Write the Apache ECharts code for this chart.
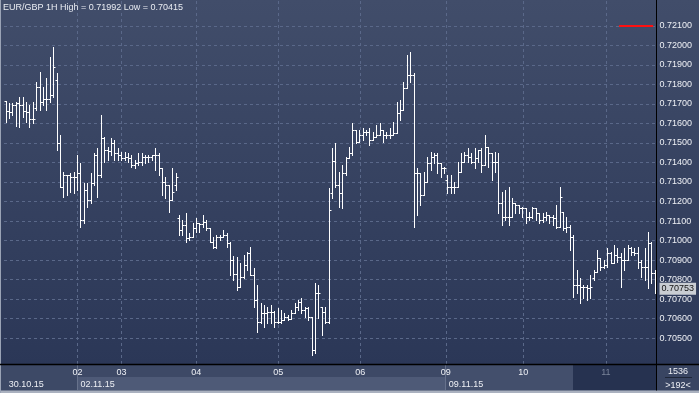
<!DOCTYPE html>
<html><head><meta charset="utf-8">
<script src="https://cdn.jsdelivr.net/npm/echarts@6/dist/echarts.min.js"></script>
<style>html,body{margin:0;padding:0;background:#2b3757;}#c{width:699px;height:393px;}</style>
</head><body><div id="c"></div>
<script>
// ---- data (EUR/GBP 1H, 192 bars) ----
const opens = [
0.71715,0.71664,0.71658,0.71694,0.71705,0.71694,0.71664,0.71658,0.71623,0.71679,
0.71787,0.71710,0.71725,0.71725,0.71746,0.71823,0.71499,0.71274,0.71335,0.71335,
0.71325,0.71325,0.71346,0.71104,0.71258,0.71207,0.71294,0.71438,0.71335,0.71525,
0.71464,0.71458,0.71499,0.71448,0.71438,0.71422,0.71428,0.71422,0.71387,0.71397,
0.71402,0.71428,0.71428,0.71428,0.71438,0.71438,0.71371,0.71299,0.71284,0.71207,
0.71284,0.71115,0.71053,0.71079,0.71012,0.71017,0.71063,0.71089,0.71084,0.71094,
0.71063,0.70992,0.70966,0.71017,0.71017,0.71028,0.70987,0.70899,0.70827,0.70761,
0.70812,0.70874,0.70935,0.70822,0.70694,0.70581,0.70627,0.70627,0.70632,0.70632,
0.70581,0.70581,0.70592,0.70607,0.70597,0.70627,0.70658,0.70684,0.70643,0.70653,
0.70607,0.70438,0.70730,0.70658,0.70632,0.70581,0.71243,0.71407,0.71284,0.71243,
0.71346,0.71422,0.71448,0.71566,0.71505,0.71540,0.71556,0.71556,0.71515,0.71530,
0.71540,0.71566,0.71540,0.71540,0.71540,0.71551,0.71653,0.71669,0.71782,0.71848,
0.71848,0.71346,0.71346,0.71233,0.71299,0.71397,0.71428,0.71438,0.71397,0.71371,
0.71310,0.71274,0.71274,0.71274,0.71351,0.71402,0.71438,0.71428,0.71402,0.71422,
0.71464,0.71387,0.71479,0.71448,0.71402,0.71402,0.71192,0.71120,0.71120,0.71120,
0.71192,0.71181,0.71166,0.71166,0.71120,0.71120,0.71166,0.71140,0.71104,0.71120,
0.71130,0.71120,0.71115,0.71069,0.71146,0.71063,0.71069,0.71017,0.70771,0.70771,
0.70761,0.70761,0.70756,0.70807,0.70838,0.70910,0.70863,0.70874,0.70935,0.70884,
0.70925,0.70915,0.70899,0.70899,0.70961,0.70940,0.70935,0.70889,0.70863,0.70863,
0.70987,0.70833];
const highs = [
0.71715,0.71705,0.71705,0.71710,0.71735,0.71735,0.71710,0.71694,0.71710,0.71812,
0.71864,0.71787,0.71833,0.71941,0.71992,0.71859,0.71540,0.71351,0.71335,0.71346,
0.71351,0.71438,0.71397,0.71294,0.71294,0.71346,0.71448,0.71474,0.71643,0.71530,
0.71479,0.71525,0.71515,0.71474,0.71453,0.71453,0.71448,0.71438,0.71412,0.71448,
0.71448,0.71438,0.71438,0.71438,0.71474,0.71448,0.71371,0.71325,0.71284,0.71371,
0.71346,0.71130,0.71104,0.71140,0.71038,0.71089,0.71115,0.71089,0.71130,0.71104,
0.71063,0.71017,0.71028,0.71028,0.71053,0.71038,0.70992,0.70920,0.70915,0.70884,
0.70925,0.70940,0.70966,0.70858,0.70771,0.70679,0.70668,0.70658,0.70668,0.70637,
0.70653,0.70643,0.70627,0.70617,0.70643,0.70679,0.70694,0.70704,0.70658,0.70658,
0.70607,0.70781,0.70771,0.70658,0.70658,0.71269,0.71474,0.71499,0.71351,0.71387,
0.71428,0.71479,0.71602,0.71566,0.71566,0.71576,0.71566,0.71576,0.71556,0.71592,
0.71602,0.71566,0.71556,0.71576,0.71607,0.71710,0.71720,0.71812,0.71951,0.71966,
0.71859,0.71371,0.71346,0.71351,0.71428,0.71453,0.71448,0.71448,0.71397,0.71376,
0.71335,0.71335,0.71299,0.71402,0.71448,0.71453,0.71474,0.71448,0.71474,0.71464,
0.71474,0.71540,0.71479,0.71448,0.71453,0.71448,0.71248,0.71258,0.71274,0.71217,
0.71192,0.71181,0.71171,0.71166,0.71146,0.71171,0.71166,0.71140,0.71140,0.71146,
0.71130,0.71130,0.71181,0.71274,0.71146,0.71120,0.71079,0.71028,0.70848,0.70807,
0.70771,0.70771,0.70822,0.70848,0.70951,0.70910,0.70899,0.70961,0.70940,0.70976,
0.70961,0.70935,0.70961,0.70976,0.70966,0.70961,0.70966,0.70899,0.70961,0.71043,
0.70992,0.70848];
const lows = [
0.71607,0.71628,0.71643,0.71587,0.71581,0.71633,0.71607,0.71581,0.71602,0.71669,
0.71669,0.71694,0.71669,0.71710,0.71735,0.71464,0.71274,0.71222,0.71233,0.71248,
0.71243,0.71258,0.71069,0.71089,0.71171,0.71192,0.71284,0.71222,0.71325,0.71402,
0.71412,0.71438,0.71412,0.71412,0.71412,0.71412,0.71402,0.71376,0.71371,0.71387,
0.71387,0.71397,0.71402,0.71412,0.71361,0.71335,0.71233,0.71217,0.71146,0.71207,
0.71258,0.71028,0.71028,0.70992,0.71002,0.71017,0.71043,0.71043,0.71069,0.71053,
0.70992,0.70961,0.70961,0.71002,0.71017,0.70966,0.70822,0.70797,0.70745,0.70761,
0.70807,0.70848,0.70822,0.70658,0.70530,0.70576,0.70555,0.70576,0.70576,0.70555,
0.70576,0.70576,0.70592,0.70592,0.70597,0.70627,0.70643,0.70627,0.70607,0.70592,
0.70415,0.70422,0.70602,0.70515,0.70576,0.70576,0.71217,0.71274,0.71171,0.71166,
0.71335,0.71422,0.71438,0.71499,0.71505,0.71515,0.71540,0.71489,0.71515,0.71530,
0.71540,0.71505,0.71525,0.71525,0.71540,0.71551,0.71617,0.71669,0.71782,0.71812,
0.71069,0.71130,0.71181,0.71233,0.71299,0.71361,0.71397,0.71346,0.71325,0.71346,
0.71243,0.71243,0.71243,0.71274,0.71351,0.71402,0.71402,0.71397,0.71371,0.71402,
0.71351,0.71387,0.71376,0.71310,0.71351,0.71140,0.71079,0.71104,0.71079,0.71120,
0.71140,0.71140,0.71120,0.71089,0.71104,0.71115,0.71104,0.71089,0.71094,0.71104,
0.71089,0.71079,0.71063,0.71069,0.71053,0.71043,0.70951,0.70710,0.70730,0.70679,
0.70704,0.70694,0.70704,0.70797,0.70838,0.70848,0.70858,0.70863,0.70884,0.70884,
0.70889,0.70761,0.70848,0.70899,0.70925,0.70925,0.70858,0.70812,0.70797,0.70756,
0.70781,0.70730];
const closes = [
0.71664,0.71658,0.71694,0.71705,0.71694,0.71664,0.71658,0.71623,0.71623,0.71787,
0.71710,0.71725,0.71725,0.71746,0.71889,0.71499,0.71274,0.71335,0.71335,0.71325,
0.71325,0.71346,0.71104,0.71258,0.71207,0.71294,0.71438,0.71335,0.71525,0.71464,
0.71458,0.71499,0.71448,0.71438,0.71422,0.71428,0.71422,0.71387,0.71397,0.71402,
0.71428,0.71428,0.71428,0.71438,0.71438,0.71371,0.71299,0.71284,0.71207,0.71248,
0.71325,0.71053,0.71079,0.71012,0.71017,0.71063,0.71089,0.71084,0.71094,0.71063,
0.70992,0.70966,0.71017,0.71017,0.71028,0.70987,0.70899,0.70827,0.70761,0.70812,
0.70874,0.70935,0.70822,0.70694,0.70581,0.70627,0.70627,0.70632,0.70632,0.70581,
0.70581,0.70592,0.70607,0.70597,0.70627,0.70658,0.70684,0.70643,0.70653,0.70607,
0.70438,0.70730,0.70730,0.70632,0.70581,0.71156,0.71407,0.71284,0.71243,0.71346,
0.71422,0.71448,0.71566,0.71505,0.71540,0.71556,0.71556,0.71515,0.71530,0.71540,
0.71566,0.71540,0.71540,0.71540,0.71551,0.71653,0.71669,0.71782,0.71848,0.71848,
0.71346,0.71346,0.71233,0.71299,0.71397,0.71428,0.71438,0.71397,0.71371,0.71371,
0.71274,0.71274,0.71274,0.71351,0.71402,0.71438,0.71428,0.71402,0.71422,0.71464,
0.71387,0.71479,0.71448,0.71402,0.71402,0.71192,0.71120,0.71120,0.71120,0.71192,
0.71181,0.71166,0.71166,0.71120,0.71120,0.71166,0.71140,0.71104,0.71120,0.71130,
0.71120,0.71115,0.71069,0.71222,0.71063,0.71069,0.71017,0.70771,0.70771,0.70761,
0.70761,0.70756,0.70761,0.70838,0.70910,0.70863,0.70874,0.70935,0.70884,0.70925,
0.70915,0.70899,0.70899,0.70961,0.70940,0.70935,0.70889,0.70863,0.70863,0.70987,
0.70833,0.70753];

const yTicks = [0.705,0.706,0.707,0.708,0.709,0.710,0.711,0.712,0.713,0.714,0.715,0.716,0.717,0.718,0.719,0.720,0.721];
const dayTickPos = [21.1, 34.1, 56.1, 80.2, 104.3, 129.5, 152.3, 176.6];
const dayLabels = ['02','03','04','05','06','09','10','11'];
const dateTickPos = [0, 21.1, 129.5];
const dateLabels = ['30.10.15','02.11.15','09.11.15'];
const titleText = 'EUR/GBP 1H High = 0.71992 Low = 0.70415';
const redLineLevel = 0.721;
const redLineFrom = 180.5;
const redLineTo = 190.5;
const barCount = '1536';
const visibleCount = '>192<';

// ---- build ----
const ohlc = closes.map((c, i) => [i, opens[i], highs[i], lows[i], c]);
const lastIdx = closes.length - 1;
const lastClose = closes[lastIdx];
const FONT = 'Liberation Sans, Arial, sans-serif';

function findLabel(pos, labels, v) {
  for (let k = 0; k < pos.length; k++) if (Math.abs(pos[k] - v) < 1e-6) return labels[k];
  return '';
}

const chart = echarts.init(document.getElementById('c'), null, {renderer: 'canvas'});
chart.setOption({
  animation: false,
  backgroundColor: 'transparent',
  title: {
    text: titleText, left: 3, top: 3, padding: 0,
    textStyle: {color: '#e9ecf2', fontSize: 9, fontWeight: 'normal', fontFamily: FONT}
  },
  grid: {left: 4, right: 42.5, top: 1, bottom: 29, containLabel: false},
  xAxis: [{
    type: 'value', min: -0.5, max: 191.5, position: 'bottom',
    axisLine: {show: false}, axisTick: {show: false, customValues: dayTickPos},
    splitLine: {show: true, lineStyle: {color: '#5a6889', type: [3, 3], width: 1}},
    axisLabel: {
      customValues: dayTickPos, margin: 4, fontSize: 9, fontFamily: FONT,
      color: function (v) { return Math.abs(v - dayTickPos[dayTickPos.length - 1]) < 1e-6 ? '#7a849a' : '#eef0f5'; },
      formatter: function (v) { return findLabel(dayTickPos, dayLabels, v); }
    }
  }, {
    type: 'value', min: -0.5, max: 191.5, position: 'bottom', offset: 11,
    axisLine: {show: false}, axisTick: {show: false, customValues: dateTickPos}, splitLine: {show: false},
    axisLabel: {
      customValues: dateTickPos, margin: 5, fontSize: 9, fontFamily: FONT, color: '#eef0f5',
      align: 'left', padding: [0, 0, 0, 3],
      formatter: function (v) { return findLabel(dateTickPos, dateLabels, v); }
    }
  }],
  yAxis: {
    type: 'value', position: 'right', min: 0.70367, max: 0.72228, scale: true,
    axisLine: {show: false}, axisTick: {show: false, customValues: yTicks},
    splitLine: {show: true, lineStyle: {color: '#5a6889', type: [3, 3], width: 1}},
    axisLabel: {
      customValues: yTicks, margin: 3, fontSize: 9, fontFamily: FONT, color: '#eef0f5',
      formatter: function (v) { return v.toFixed(5); }
    }
  },
  graphic: [
    {type: 'rect', z: -100, silent: true, shape: {x: 0, y: 0, width: 699, height: 365},
     style: {fill: new echarts.graphic.LinearGradient(0, 0, 0, 1, [{offset: 0, color: '#414d6a'}, {offset: 1, color: '#2b3757'}])}},
    {type: 'rect', z: -90, silent: true, shape: {x: 0, y: 365, width: 657, height: 26}, style: {fill: '#3d4966'}},
    {type: 'rect', z: -89, silent: true, shape: {x: 77, y: 377, width: 368, height: 13}, style: {fill: '#4e5a77'}},
    {type: 'rect', z: -89, silent: true, shape: {x: 445, y: 365, width: 128, height: 25}, style: {fill: '#434f6c'}},
    {type: 'rect', z: -89, silent: true, shape: {x: 573, y: 365, width: 83, height: 25}, style: {fill: '#263250'}},
    {type: 'rect', z: -89, silent: true, shape: {x: 657, y: 365, width: 42, height: 26}, style: {fill: '#394562'}},
    {type: 'line', z: -88, silent: true, shape: {x1: 77.5, y1: 365, x2: 77.5, y2: 390}, style: {stroke: '#67728c', lineWidth: 1}},
    {type: 'line', z: -88, silent: true, shape: {x1: 445.5, y1: 365, x2: 445.5, y2: 390}, style: {stroke: '#67728c', lineWidth: 1}},
    {type: 'rect', z: 100, silent: true, shape: {x: 0, y: 390.5, width: 699, height: 2.5}, style: {fill: '#aab1bf'}},
    {type: 'rect', z: 100, silent: true, shape: {x: 0, y: 0, width: 1, height: 393}, style: {fill: '#9aa3b5'}},
    {type: 'line', z: 100, silent: true, shape: {x1: 0, y1: 364.5, x2: 699, y2: 364.5}, style: {stroke: '#000', lineWidth: 1.5}},
    {type: 'line', z: 100, silent: true, shape: {x1: 656.5, y1: 0, x2: 656.5, y2: 390.5}, style: {stroke: '#000', lineWidth: 1}},
    {type: 'text', z: 100, silent: true, x: 678, y: 372, style: {text: barCount, fill: '#eef0f5', font: '9px ' + FONT, textAlign: 'center', textVerticalAlign: 'middle'}},
    {type: 'line', z: 100, silent: true, shape: {x1: 665, y1: 377.5, x2: 692, y2: 377.5}, style: {stroke: '#1e2638', lineWidth: 1}},
    {type: 'text', z: 100, silent: true, x: 678, y: 385.5, style: {text: visibleCount, fill: '#eef0f5', font: '9px ' + FONT, textAlign: 'center', textVerticalAlign: 'middle'}}
  ],
  series: [{
    type: 'custom',
    data: ohlc,
    encode: {x: 0, y: [1, 2, 3, 4]},
    clip: true,
    renderItem: function (params, api) {
      const i = api.value(0);
      const ph = api.coord([i, api.value(2)]);
      const pl = api.coord([i, api.value(3)]);
      const po = api.coord([i, api.value(1)]);
      const pc = api.coord([i, api.value(4)]);
      const x = Math.round(ph[0]) + 0.5;
      const st = {stroke: '#ffffff', lineWidth: 1};
      const yo = Math.round(po[1]) + 0.5, yc = Math.round(pc[1]) + 0.5;
      return {type: 'group', children: [
        {type: 'line', shape: {x1: x, y1: Math.round(ph[1]), x2: x, y2: Math.round(pl[1]) + 1}, style: st},
        {type: 'line', shape: {x1: x - 2, y1: yo, x2: x, y2: yo}, style: st},
        {type: 'line', shape: {x1: x, y1: yc, x2: x + 2, y2: yc}, style: st}
      ]};
    }
  }, {
    type: 'line', data: ohlc.map(d => [d[0], d[4]]), showSymbol: false, silent: true,
    lineStyle: {opacity: 0}, z: 5,
    markLine: {
      silent: true, symbol: ['none', 'none'], animation: false,
      data: [
        [{coord: [redLineFrom, redLineLevel], lineStyle: {color: '#ff1010', width: 2, type: 'solid', opacity: 1}, label: {show: false}},
         {coord: [redLineTo, redLineLevel]}],
        [{coord: [lastIdx, lastClose], lineStyle: {color: 'rgba(0,0,0,0)', width: 1, type: 'solid', opacity: 1},
          label: {show: true, position: 'end', distance: 3, formatter: lastClose.toFixed(5), opacity: 1,
                  color: '#111111', backgroundColor: '#c9cdd3', padding: [2, 2, 1, 2], fontSize: 9, fontFamily: FONT}},
         {coord: [191.5, lastClose]}]
      ]
    }
  }]
});
</script></body></html>
